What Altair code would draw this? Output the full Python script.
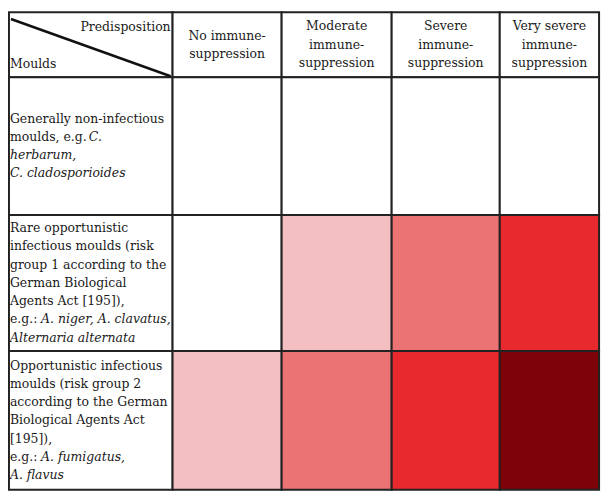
import altair as alt
import pandas as pd

# ---------------- data ----------------
corner_top = "Predisposition"
corner_bottom = "Moulds"
predispositions = [
    ["No immune-", "suppression"],
    ["Moderate", "immune-", "suppression"],
    ["Severe", "immune-", "suppression"],
    ["Very severe", "immune-", "suppression"],
]
# each mould group: list of lines, each line a list of (text, italic) segments
mould_groups = [
    [[("Generally non-infectious", False)],
     [("moulds, e.g. ", False), ("C.", True)],
     [("herbarum,", True)],
     [("C. cladosporioides", True)]],
    [[("Rare opportunistic", False)],
     [("infectious moulds (risk", False)],
     [("group 1 according to the", False)],
     [("German Biological", False)],
     [("Agents Act [195]),", False)],
     [("e.g.: ", False), ("A. niger, A. clavatus,", True)],
     [("Alternaria alternata", True)]],
    [[("Opportunistic infectious", False)],
     [("moulds (risk group 2", False)],
     [("according to the German", False)],
     [("Biological Agents Act", False)],
     [("[195]),", False)],
     [("e.g.: ", False), ("A. fumigatus,", True)],
     [("A. flavus", True)]],
]
risk_levels = [
    [0, 0, 0, 0],
    [0, 1, 2, 3],
    [1, 2, 3, 4],
]
level_colors = ["#ffffff", "#f3bfc1", "#eb7374", "#e8292d", "#7d0309"]

# ---------------- layout (reference units) ----------------
W_REF, H_REF = 610, 494
COL_EDGES = [1, 169, 281, 394, 505, 607]
ROW_EDGES = [1, 68, 210, 350, 493]
LH = 18.8
LABEL_X = 2
SEG_OFFSET = {"moulds, e.g. ": 81, "e.g.: ": 32}
INK = "#1a1a1a"
FONT = "DejaVu Serif"
FS = 12.6

cells = []
for r in range(4):
    for c in range(5):
        lvl = risk_levels[r - 1][c - 1] if (r > 0 and c > 0) else 0
        cells.append(dict(x=COL_EDGES[c], x2=COL_EDGES[c + 1],
                          y=ROW_EDGES[r], y2=ROW_EDGES[r + 1], level=lvl))
cells = pd.DataFrame(cells)

head_rows = []
hy = (ROW_EDGES[0] + ROW_EDGES[1]) / 2
for c, lines in enumerate(predispositions):
    cx = (COL_EDGES[c + 1] + COL_EDGES[c + 2]) / 2
    n = len(lines)
    for i, t in enumerate(lines):
        head_rows.append(dict(x=cx, y=hy + (i - (n - 1) / 2) * LH, text=t))
head_df = pd.DataFrame(head_rows)

lab_rows = []
for g, lines in enumerate(mould_groups):
    cy = (ROW_EDGES[g + 1] + ROW_EDGES[g + 2]) / 2
    n = len(lines)
    for i, segs in enumerate(lines):
        off = 0
        for t, it in segs:
            lab_rows.append(dict(x=LABEL_X + off, y=cy + (i - (n - 1) / 2) * LH,
                                 text=t, italic=it))
            off += SEG_OFFSET.get(t, 0)
lab_df = pd.DataFrame(lab_rows)

corner_r = pd.DataFrame([dict(x=COL_EDGES[1] - 2, y=16, text=corner_top)])
corner_l = pd.DataFrame([dict(x=LABEL_X, y=54, text=corner_bottom)])
diag = pd.DataFrame([dict(x=COL_EDGES[0] + 2, y=ROW_EDGES[0] + 7,
                          x2=COL_EDGES[1] - 2, y2=ROW_EDGES[1] - 1)])

xs = alt.Scale(domain=[0, W_REF], nice=False, zero=False)
ys = alt.Scale(domain=[0, H_REF], nice=False, zero=False, reverse=True)
X = lambda f="x": alt.X(f"{f}:Q", scale=xs, axis=None)
Y = lambda f="y": alt.Y(f"{f}:Q", scale=ys, axis=None)

rects = alt.Chart(cells).mark_rect(stroke="#222222", strokeWidth=2).encode(
    x=X(), x2="x2:Q", y=Y(), y2="y2:Q",
    color=alt.Color("level:O", scale=alt.Scale(domain=[0, 1, 2, 3, 4], range=level_colors),
                    legend=None),
)

diag_l = alt.Chart(diag).mark_rule(color="#111111", strokeWidth=2.5).encode(
    x=X(), y=Y(), x2="x2:Q", y2="y2:Q")

tkw = dict(font=FONT, fontSize=FS, color=INK, baseline="middle")
head_t = alt.Chart(head_df).mark_text(align="center", **tkw).encode(x=X(), y=Y(), text="text:N")
lab_n = alt.Chart(lab_df[~lab_df.italic]).mark_text(align="left", **tkw).encode(x=X(), y=Y(), text="text:N")
lab_i = alt.Chart(lab_df[lab_df.italic]).mark_text(align="left", fontStyle="italic", **tkw).encode(
    x=X(), y=Y(), text="text:N")
cr = alt.Chart(corner_r).mark_text(align="right", **tkw).encode(x=X(), y=Y(), text="text:N")
cl = alt.Chart(corner_l).mark_text(align="left", **tkw).encode(x=X(), y=Y(), text="text:N")

chart = alt.layer(rects, diag_l, head_t, lab_n, lab_i, cr, cl).properties(
    width=602, height=486, padding=0, autosize=alt.AutoSizeParams(type="none")
).configure_view(stroke=None)

chart.save("out.html", embed_options={"renderer": "svg", "actions": False})
